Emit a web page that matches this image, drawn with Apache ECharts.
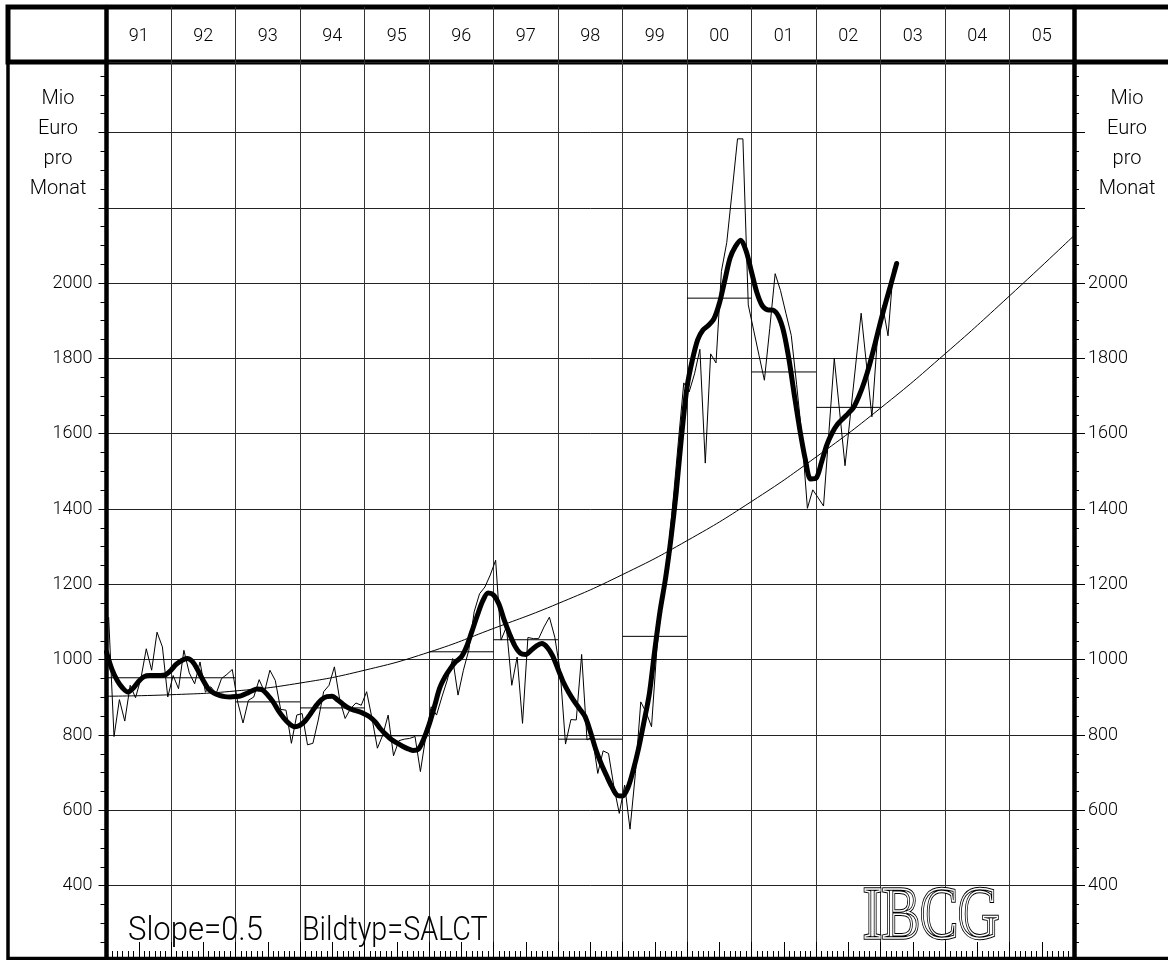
<!DOCTYPE html>
<html>
<head>
<meta charset="utf-8">
<title>IBCG</title>
<script src="https://cdn.jsdelivr.net/npm/echarts@6.0.0/dist/echarts.min.js"></script>
<style>
html,body{margin:0;padding:0;background:#ffffff;}
#chart{width:1168px;height:960px;}
</style>
</head>
<body>
<div id="chart"></div>
<script>
// ---------- data ----------
const yearLabels = ['91','92','93','94','95','96','97','98','99','00','01','02','03','04','05'];
const firstYear = 1991;
const lastYear = 2006;
const yTickLabels = [400, 600, 800, 1000, 1200, 1400, 1600, 1800, 2000];

// monthly values (Mio Euro pro Monat), thin line
const raw1991 = [1113, 796, 894, 837, 932, 899, 950, 1029, 972, 1073, 1034, 901];
const raw1992 = [958, 923, 1025, 965, 936, 994, 914, 928, 910, 950, 961, 974];
const raw1993 = [888, 832, 892, 901, 947, 915, 972, 945, 868, 866, 778, 853];
const raw1994 = [857, 774, 778, 840, 915, 932, 981, 893, 844, 870, 885, 879];
const raw1995 = [915, 844, 765, 800, 853, 745, 785, 789, 791, 796, 703, 796];
const raw1996 = [875, 853, 901, 946, 1003, 906, 972, 1025, 1127, 1175, 1193, 1225];
const raw1997 = [1264, 1052, 1087, 932, 1007, 831, 1059, 1056, 1056, 1087, 1113, 1060];
const raw1998 = [970, 776, 841, 840, 1014, 787, 795, 698, 758, 751, 663, 592];
const raw1999 = [667, 550, 698, 888, 860, 822, 1030, 1160, 1270, 1420, 1580, 1735];
const raw2000 = [1711, 1759, 1824, 1522, 1812, 1788, 2031, 2108, 2244, 2383, 2383, 1942];
const raw2001 = [1875, 1808, 1742, 1880, 2025, 1980, 1920, 1861, 1730, 1590, 1402, 1451];
const raw2002 = [1430, 1408, 1604, 1800, 1658, 1515, 1650, 1785, 1920, 1782, 1645, 1848];
const raw2003 = [1940, 1860, 2040];

// smoothed curve, one value per month from Jan 1991 (thick line)
const smooth1991 = [1020, 975, 945, 925, 914, 925, 943, 955, 958, 958, 958, 960];
const smooth1992 = [972, 988, 998, 1003, 995, 972, 945, 922, 911, 905, 902, 901];
const smooth1993 = [902, 904, 910, 917, 922, 920, 906, 888, 864, 845, 830, 822];
const smooth1994 = [826, 838, 857, 878, 894, 902, 903, 893, 882, 872, 866, 862];
const smooth1995 = [856, 848, 835, 816, 801, 788, 779, 771, 764, 759, 762, 789];
const smooth1996 = [827, 875, 925, 955, 977, 995, 1007, 1035, 1076, 1118, 1156, 1177];
const smooth1997 = [1172, 1148, 1105, 1068, 1036, 1017, 1014, 1025, 1037, 1043, 1033, 1010];
const smooth1998 = [975, 940, 913, 890, 870, 850, 810, 763, 725, 693, 663, 640];
const smooth1999 = [638, 660, 707, 765, 835, 910, 1025, 1130, 1215, 1320, 1445, 1595];
const smooth2000 = [1723, 1796, 1850, 1876, 1888, 1905, 1945, 2005, 2066, 2097, 2114, 2085];
const smooth2001 = [2030, 1975, 1940, 1929, 1928, 1912, 1870, 1795, 1700, 1610, 1533, 1480];
const smooth2002 = [1482, 1523, 1570, 1602, 1625, 1640, 1654, 1670, 1700, 1738, 1785, 1840];
const smooth2003 = [1897, 1950, 2000, 2052];

// yearly means 1991..2002 (horizontal segments)
const yearMeans = [952, 952, 888, 872, 798, 1021, 1053, 789, 1062, 1960, 1764, 1670];

// trend curve, value at the start of each year 1991..2006
const trendValues = [903, 907, 917, 938, 972, 1020, 1083, 1149, 1226, 1316, 1420, 1538, 1668, 1812, 1966, 2126];

// ---------- build series data ----------
const rawValues = [].concat(raw1991, raw1992, raw1993, raw1994, raw1995, raw1996,
  raw1997, raw1998, raw1999, raw2000, raw2001, raw2002, raw2003);
const smoothValues = [].concat(smooth1991, smooth1992, smooth1993, smooth1994, smooth1995, smooth1996,
  smooth1997, smooth1998, smooth1999, smooth2000, smooth2001, smooth2002, smooth2003);
const rawData = rawValues.map((v, i) => [firstYear + (i + 0.4) / 12, v]);
const smoothData = smoothValues.map((v, i) => [firstYear + i / 12, v]);
const trendData = trendValues.map((v, i) => [firstYear + i, v]);
const stepData = [];
yearMeans.forEach((m, i) => {
  stepData.push([firstYear + i, m], [firstYear + i + 1, m], [firstYear + i + 1, '-']);
});

const FONT = 'Roboto';
const FW = 300;
const INK = '#000';

const chart = echarts.init(document.getElementById('chart'), null, {renderer: 'canvas'});

const option = {
  animation: false,
  backgroundColor: '#ffffff',
  grid: [
    {left: 106.5, right: 94, top: 62, bottom: -1, containLabel: false, outerBoundsMode: 'none'},
    {left: 8, right: -20, top: 7, height: 55, show: true, borderColor: INK, borderWidth: 5,
      backgroundColor: 'transparent', containLabel: false, outerBoundsMode: 'none'},
    {left: 8, right: -20, top: 7, bottom: 1.5, show: true, borderColor: INK, borderWidth: 3.5,
      backgroundColor: 'transparent', containLabel: false, outerBoundsMode: 'none'},
    {left: 106.5, right: 94, top: 7, bottom: -1, containLabel: false, outerBoundsMode: 'none'}
  ],
  xAxis: [
    {
      gridIndex: 0, type: 'value', min: firstYear, max: lastYear, interval: 1, position: 'bottom',
      axisLine: {show: true, onZero: false, lineStyle: {color: INK, width: 8}},
      axisTick: {show: true, inside: true, length: 10, lineStyle: {color: INK, width: 1}},
      minorTick: {show: true, splitNumber: 12, length: 10, lineStyle: {color: INK, width: 1}},
      axisLabel: {show: false},
      splitLine: {show: false}
    },
    {
      gridIndex: 0, type: 'value', min: firstYear, max: lastYear, interval: 0.5, position: 'bottom',
      axisLine: {show: false, onZero: false},
      axisTick: {show: true, inside: true, length: 19, lineStyle: {color: INK, width: 1}},
      axisLabel: {show: false},
      splitLine: {show: false}
    },
    {
      gridIndex: 3, type: 'category', data: yearLabels, boundaryGap: true, position: 'top',
      axisLine: {show: false},
      axisTick: {show: false},
      axisLabel: {show: true, inside: true, margin: 20, interval: 0,
        fontFamily: FONT, fontWeight: FW, fontSize: 18, color: INK},
      splitLine: {show: true, interval: 0, lineStyle: {color: '#333', width: 1}}
    },
    {gridIndex: 1, type: 'value', show: false, min: 0, max: 1},
    {gridIndex: 2, type: 'value', show: false, min: 0, max: 1}
  ],
  yAxis: [
    {
      gridIndex: 0, type: 'value', min: 200, max: 2587, interval: 200, position: 'left',
      axisLine: {show: false, onZero: false},
      axisTick: {show: true, length: 8, lineStyle: {color: INK, width: 1}},
      minorTick: {show: true, splitNumber: 4, length: 6, lineStyle: {color: INK, width: 1}},
      axisLabel: {show: true, margin: 14, fontFamily: FONT, fontWeight: FW, fontSize: 18, color: INK,
        formatter: v => (yTickLabels.indexOf(v) >= 0 ? String(v) : '')},
      splitLine: {show: true, lineStyle: {color: '#222', width: 1}}
    },
    {
      gridIndex: 0, type: 'value', min: 200, max: 2587, interval: 200, position: 'right',
      axisLine: {show: false, onZero: false},
      axisTick: {show: true, length: 11, lineStyle: {color: INK, width: 1}},
      minorTick: {show: true, splitNumber: 4, length: 5, lineStyle: {color: INK, width: 1}},
      axisLabel: {show: true, margin: 14, fontFamily: FONT, fontWeight: FW, fontSize: 18, color: INK,
        formatter: v => (yTickLabels.indexOf(v) >= 0 ? String(v) : '')},
      splitLine: {show: false}
    },
    {
      gridIndex: 3, type: 'value', min: 0, max: 1, position: 'left',
      axisLine: {show: true, onZero: false, lineStyle: {color: INK, width: 4.5}},
      axisTick: {show: false}, axisLabel: {show: false}, splitLine: {show: false}
    },
    {
      gridIndex: 3, type: 'value', min: 0, max: 1, position: 'right',
      axisLine: {show: true, onZero: false, lineStyle: {color: INK, width: 4.5}},
      axisTick: {show: false}, axisLabel: {show: false}, splitLine: {show: false}
    },
    {gridIndex: 1, type: 'value', show: false, min: 0, max: 1},
    {gridIndex: 2, type: 'value', show: false, min: 0, max: 1}
  ],
  series: [
    {type: 'line', name: 'Trend', xAxisIndex: 0, yAxisIndex: 0, data: trendData, smooth: true,
      symbol: 'none', lineStyle: {color: INK, width: 1}, z: 3, silent: true},
    {type: 'line', name: 'Jahresmittel', xAxisIndex: 0, yAxisIndex: 0, data: stepData,
      connectNulls: false, symbol: 'none', lineStyle: {color: INK, width: 1}, z: 3, silent: true},
    {type: 'line', name: 'Monatswerte', xAxisIndex: 0, yAxisIndex: 0, data: rawData,
      symbol: 'none', lineStyle: {color: INK, width: 1}, z: 4, silent: true},
    {type: 'line', name: 'Glättung', xAxisIndex: 0, yAxisIndex: 0, data: smoothData, smooth: 0.3,
      symbol: 'none', lineStyle: {color: INK, width: 5, cap: 'round', join: 'round'}, z: 5, silent: true}
  ],
  graphic: [
    {type: 'text', x: 58, y: 84, z: 100, silent: true,
      style: {text: 'Mio\nEuro\npro\nMonat', fontFamily: FONT, fontWeight: FW, fontSize: 20, lineHeight: 30,
        fill: INK, textAlign: 'center', textVerticalAlign: 'top'}},
    {type: 'text', x: 1127, y: 84, z: 100, silent: true,
      style: {text: 'Mio\nEuro\npro\nMonat', fontFamily: FONT, fontWeight: FW, fontSize: 20, lineHeight: 30,
        fill: INK, textAlign: 'center', textVerticalAlign: 'top'}},
    {type: 'text', x: 128, y: 931.5, scaleX: 0.94, z: 100, silent: true,
      style: {text: 'Slope=0.5', fontFamily: FONT, fontWeight: FW, fontSize: 33,
        fill: INK, textAlign: 'left', textVerticalAlign: 'middle'}},
    {type: 'text', x: 302, y: 931.5, scaleX: 0.87, z: 100, silent: true,
      style: {text: 'Bildtyp=SALCT', fontFamily: FONT, fontWeight: FW, fontSize: 33,
        fill: INK, textAlign: 'left', textVerticalAlign: 'middle'}},
    {type: 'text', x: 863, y: 919, scaleX: 0.78, z: 100, silent: true,
      style: {text: 'IBCG', fontFamily: 'Liberation Serif', fontSize: 73, fill: 'none',
        stroke: INK, lineWidth: 3.5, textAlign: 'left', textVerticalAlign: 'middle'}},
    {type: 'text', x: 863, y: 919, scaleX: 0.78, z: 101, silent: true,
      style: {text: 'IBCG', fontFamily: 'Liberation Serif', fontSize: 73, fill: 'none',
        stroke: '#ffffff', lineWidth: 1.5, textAlign: 'left', textVerticalAlign: 'middle'}}
  ]
};

chart.setOption(option);
</script>
</body>
</html>
